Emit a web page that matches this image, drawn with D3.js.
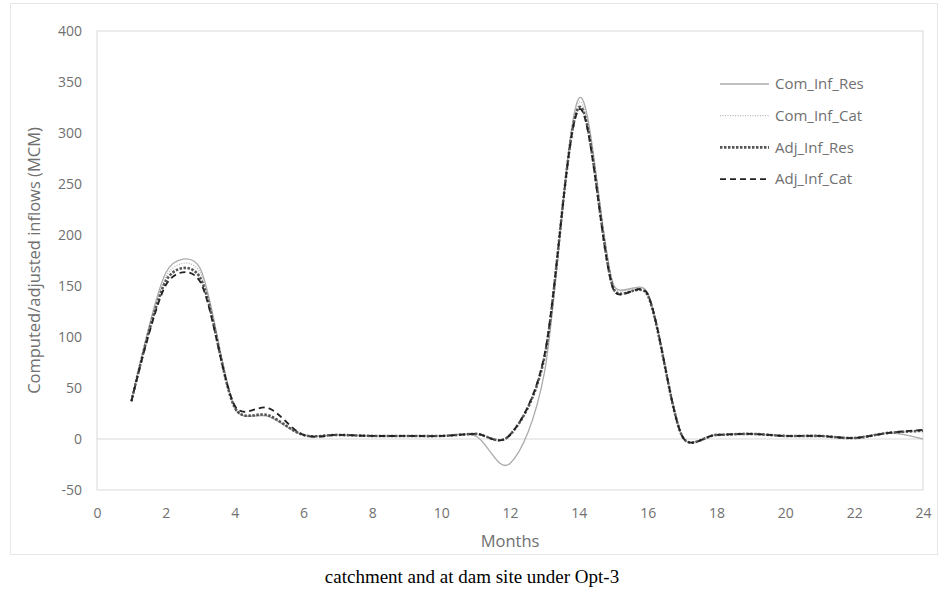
<html>
<head>
<meta charset="utf-8">
<script src="https://d3js.org/d3.v7.min.js"></script>
<style>
body { margin: 0; background: #fff; }
text { font-family: "Open Sans", "Liberation Sans", sans-serif; }
</style>
</head>
<body>
<div id="chart"></div>
<script>
var months = d3.range(1, 25);
var seriesNames = ["Com_Inf_Res", "Com_Inf_Cat", "Adj_Inf_Res", "Adj_Inf_Cat"];
var comInfRes = [37, 163, 167, 31, 22, 4, 4, 3, 3, 3, 3, -24, 65, 334, 152, 143, 3, 4, 5, 3, 3, 1, 6, 0];
var comInfCat = [37, 159, 163, 31, 22, 4, 4, 3, 3, 3, 5, 4, 80, 330, 151, 143, 3, 4, 5, 3, 3, 1, 6, 8];
var adjInfRes = [37, 155, 158, 31, 23, 4, 4, 3, 3, 3, 5, 4, 80, 325, 148, 141, 3, 4, 5, 3, 3, 1, 6, 8];
var adjInfCat = [37, 151, 154, 33, 30, 4, 4, 3, 3, 3, 5, 4, 82, 323, 147, 142, 3, 4, 5, 3, 3, 1, 6, 9];
var xTicks = d3.range(0, 25, 2);
var yTicks = d3.range(-50, 401, 50);

var allSeries = [comInfRes, comInfCat, adjInfRes, adjInfCat];
var styles = [
  { stroke: "#ababab", width: 1.3, dash: null },
  { stroke: "#b5b5b5", width: 1.3, dash: "1,1.5" },
  { stroke: "#555", width: 2.6, dash: "2.5,1.5" },
  { stroke: "#222", width: 1.8, dash: "6,4" }
];

// spreadsheet-style smoothing: bezier handles = (next - prev) / 6,
// shortened to at most half of the adjacent segment
function smoothCurve(context) {
  var pts;
  return {
    areaStart: function() {}, areaEnd: function() {},
    lineStart: function() { pts = []; },
    point: function(px, py) { pts.push([+px, +py]); },
    lineEnd: function() {
      var n = pts.length;
      if (!n) return;
      var hIn = [], hOut = [];
      for (var i = 0; i < n; i++) {
        if (i == 0 || i == n - 1) { hIn.push([0, 0]); hOut.push([0, 0]); continue; }
        var tx = (pts[i + 1][0] - pts[i - 1][0]) / 6, ty = (pts[i + 1][1] - pts[i - 1][1]) / 6;
        var len = Math.hypot(tx, ty) || 1;
        var dPrev = Math.hypot(pts[i][0] - pts[i - 1][0], pts[i][1] - pts[i - 1][1]) / 2;
        var dNext = Math.hypot(pts[i + 1][0] - pts[i][0], pts[i + 1][1] - pts[i][1]) / 2;
        var sIn = Math.min(1, dPrev / len), sOut = Math.min(1, dNext / len);
        hIn.push([-tx * sIn, -ty * sIn]);
        hOut.push([tx * sOut, ty * sOut]);
      }
      context.moveTo(pts[0][0], pts[0][1]);
      for (var j = 0; j < n - 1; j++) {
        var a = pts[j], b = pts[j + 1];
        context.bezierCurveTo(a[0] + hOut[j][0], a[1] + hOut[j][1],
          b[0] + hIn[j + 1][0], b[1] + hIn[j + 1][1], b[0], b[1]);
      }
    }
  };
}

var W = 940, H = 594;
var margin = { left: 97, right: 17, top: 31, bottom: 104 };

var svg = d3.select("#chart").append("svg")
  .attr("width", W).attr("height", H);

// outer chart frame
svg.append("rect")
  .attr("x", 10.5).attr("y", 3.5).attr("width", 927).attr("height", 551)
  .attr("fill", "none").attr("stroke", "#e6e6e6");

var x = d3.scaleLinear().domain([0, 24]).range([margin.left, W - margin.right]);
var y = d3.scaleLinear().domain([-50, 400]).range([H - margin.bottom, margin.top]);

// plot frame
svg.append("rect")
  .attr("x", x(0)).attr("y", y(400))
  .attr("width", x(24) - x(0)).attr("height", y(-50) - y(400))
  .attr("fill", "none").attr("stroke", "#d9d9d9");

// zero line
svg.append("line")
  .attr("x1", x(0)).attr("x2", x(24))
  .attr("y1", y(0)).attr("y2", y(0))
  .attr("stroke", "#d9d9d9");

var xAxis = d3.axisBottom(x).tickValues(xTicks).tickSize(0).tickPadding(18);
var yAxis = d3.axisLeft(y).tickValues(yTicks).tickSize(0).tickPadding(15)
  .tickFormat(function(d) { return d < 0 ? "-" + (-d) : d; });

var gx = svg.append("g").attr("transform", "translate(0," + y(-50) + ")").call(xAxis);
var gy = svg.append("g").attr("transform", "translate(" + x(0) + ",0)").call(yAxis);
[gx, gy].forEach(function(g) {
  g.select(".domain").remove();
  g.selectAll("text").attr("fill", "#707070").style("font-size", "14px");
});

var line = d3.line()
  .x(function(d, i) { return x(months[i]); })
  .y(function(d) { return y(d); })
  .curve(smoothCurve);

allSeries.forEach(function(s, i) {
  svg.append("path")
    .datum(s)
    .attr("d", line)
    .attr("fill", "none")
    .attr("stroke", styles[i].stroke)
    .attr("stroke-width", styles[i].width)
    .attr("stroke-dasharray", styles[i].dash);
});

// legend
var legend = svg.append("g").attr("transform", "translate(720,84)");
seriesNames.forEach(function(name, i) {
  var ly = i * 31.7;
  legend.append("line")
    .attr("x1", 0).attr("x2", 49).attr("y1", ly).attr("y2", ly)
    .attr("stroke", styles[i].stroke)
    .attr("stroke-width", styles[i].width)
    .attr("stroke-dasharray", styles[i].dash);
  legend.append("text")
    .attr("x", 55).attr("y", ly).attr("dy", "0.35em")
    .attr("fill", "#707070").style("font-size", "15px")
    .text(name);
});

// axis titles
svg.append("text")
  .attr("transform", "translate(40," + ((y(400) + y(-50)) / 2) + ") rotate(-90)")
  .attr("text-anchor", "middle")
  .attr("fill", "#707070").style("font-size", "16.5px")
  .text("Computed/adjusted inflows (MCM)");

svg.append("text")
  .attr("x", (x(0) + x(24)) / 2).attr("y", 547)
  .attr("text-anchor", "middle")
  .attr("fill", "#707070").style("font-size", "16.5px")
  .text("Months");

// caption
svg.append("text")
  .attr("x", 472).attr("y", 583)
  .attr("text-anchor", "middle")
  .attr("fill", "#000")
  .style("font-family", "'Liberation Serif', 'Times New Roman', serif")
  .style("font-size", "19px")
  .text("catchment and at dam site under Opt-3");
</script>
</body>
</html>
